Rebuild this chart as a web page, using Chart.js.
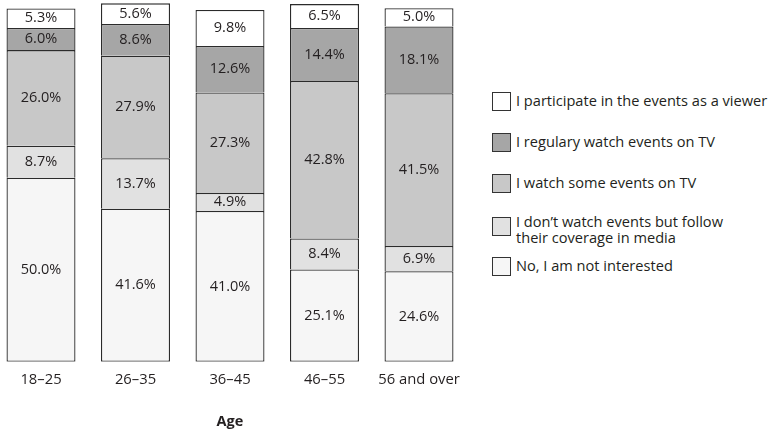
<!DOCTYPE html>
<html>
<head>
<meta charset="utf-8">
<script src="https://cdn.jsdelivr.net/npm/chart.js@4"></script>
<style>
  html, body { margin: 0; padding: 0; background: #fff; }
  #wrap { position: relative; width: 778px; height: 435px; overflow: hidden; font-family: "Open Sans", sans-serif; color: #231f20; }
  #plot { position: absolute; left: -20px; top: 0; width: 500px; height: 435px; }
  #legend { position: absolute; left: 492px; top: 92px; width: 290px; }
  .item { position: relative; height: 18px; margin-bottom: 23px; }
  .item.two { height: 20px; margin-bottom: 22px; }
  .box { position: absolute; left: 0; top: 0; width: 17px; height: 17px; border: 1px solid #333; }
  .two .box { top: 2px; }
  .txt { position: absolute; left: 24px; top: -1px; font-size: 14.6px; line-height: 19px; white-space: nowrap; }
  .item.two .txt { top: -1px; line-height: 15.5px; }
</style>
</head>
<body>
<div id="wrap">
  <div id="plot"><canvas id="chart"></canvas></div>
  <div id="legend"></div>
</div>
<script>
var ageGroups = ['18\u201325', '26\u201335', '36\u201345', '46\u201355', '56 and over'];

// stacked bottom to top
var notInterested = [50.0, 41.6, 41.0, 25.1, 24.6];
var followMedia   = [8.7, 13.7, 4.9, 8.4, 6.9];
var watchSome     = [26.0, 27.9, 27.3, 42.8, 41.5];
var watchRegular  = [6.0, 8.6, 12.6, 14.4, 18.1];
var participate   = [5.3, 5.6, 9.8, 6.5, 5.0];

var seriesNames = [
    'No, I am not interested',
    ['I don\u2019t watch events but follow', 'their coverage in media'],
    'I watch some events on TV',
    'I regulary watch events on TV',
    'I participate in the events as a viewer'
];
var seriesData = [notInterested, followMedia, watchSome, watchRegular, participate];
var seriesColors = ['#f6f6f6', '#e1e1e1', '#c8c8c8', '#a6a6a6', '#ffffff'];

var textColor = '#231f20';

var datasets = seriesData.map(function(d, i) {
    return {
        label: Array.isArray(seriesNames[i]) ? seriesNames[i].join(' ') : seriesNames[i],
        data: d,
        backgroundColor: seriesColors[i],
        borderColor: '#2b2b2b',
        borderWidth: 1.3,
        borderSkipped: i == 0 ? false : 'bottom'
    };
});

// percent labels inside every segment
var segmentLabels = {
    id: 'segmentLabels',
    afterDatasetsDraw: function(chart) {
        var ctx = chart.ctx;
        ctx.save();
        ctx.fillStyle = textColor;
        ctx.font = '14.5px "Open Sans"';
        ctx.textAlign = 'center';
        ctx.textBaseline = 'middle';
        chart.data.datasets.forEach(function(ds, i) {
            chart.getDatasetMeta(i).data.forEach(function(bar, j) {
                var mid = (bar.y + bar.base) / 2;
                ctx.fillText(ds.data[j].toFixed(1) + '%', bar.x, mid);
            });
        });
        ctx.restore();
    }
};

new Chart(document.getElementById('chart'), {
    type: 'bar',
    data: { labels: ageGroups, datasets: datasets },
    options: {
        responsive: true,
        maintainAspectRatio: false,
        animation: false,
        layout: { padding: { left: 13.75, right: 13.75, top: 3, bottom: 0 } },
        plugins: {
            legend: { display: false },
            tooltip: { enabled: false }
        },
        datasets: { bar: { categoryPercentage: 1, barPercentage: 0.73 } },
        scales: {
            x: {
                stacked: true,
                grid: { display: false, drawTicks: false },
                border: { display: false },
                ticks: { color: textColor, font: { family: 'Open Sans', size: 14.8 }, padding: 9 },
                title: {
                    display: true,
                    text: 'Age',
                    color: textColor,
                    font: { family: 'Open Sans', size: 14.5, weight: 'bold' },
                    padding: { top: 16, bottom: 4 }
                }
            },
            y: {
                stacked: true,
                display: false,
                min: 0,
                max: 97.5
            }
        }
    },
    plugins: [segmentLabels]
});

// legend, top entry first
var legendDiv = document.getElementById('legend');
for (var k = seriesNames.length - 1; k >= 0; k--) {
    var entry = seriesNames[k];
    var item = document.createElement('div');
    item.className = 'item' + (Array.isArray(entry) ? ' two' : '');
    var box = document.createElement('div');
    box.className = 'box';
    box.style.background = seriesColors[k];
    var txt = document.createElement('div');
    txt.className = 'txt';
    txt.innerHTML = Array.isArray(entry) ? entry.join('<br>') : entry;
    item.appendChild(box);
    item.appendChild(txt);
    legendDiv.appendChild(item);
}
</script>
</body>
</html>
